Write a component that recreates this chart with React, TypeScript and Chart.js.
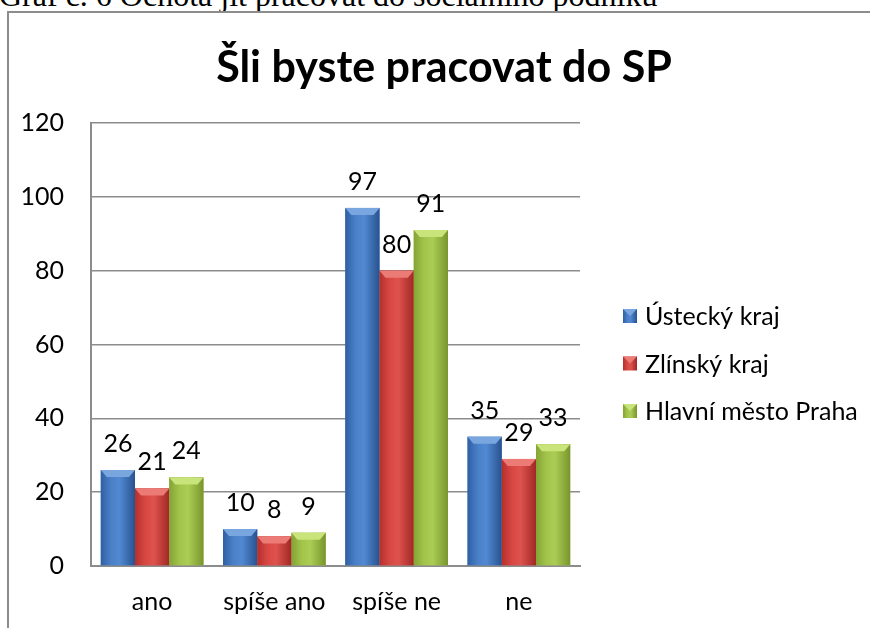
import React, { useEffect, useRef } from "react";
import { Chart, registerables } from "chart.js";

Chart.register(...registerables);

const captionText = "Graf č. 6 Ochota jít pracovat do sociálního podniku";
const chartTitle = "Šli byste pracovat do SP";
const categories = ["ano", "spíše ano", "spíše ne", "ne"];
const seriesNames = ["Ústecký kraj", "Zlínský kraj", "Hlavní město Praha"];
const usteckyValues = [26, 10, 97, 35];
const zlinskyValues = [21, 8, 80, 29];
const prahaValues = [24, 9, 91, 33];
const yMin = 0;
const yMax = 120;
const yStep = 20;

const FONT = "Lato, 'Open Sans', sans-serif";
const GRID = "#8c8c8c";
const FS = 25;

// [edgeLeft, mid, light, edgeRight, bevel]
const palettes = [
  ["#2f5fa3", "#4a80c8", "#5189d2", "#28528f", "#7aa6e0"],
  ["#b52f2c", "#d84843", "#de524d", "#a02825", "#ec7b76"],
  ["#84a334", "#a2c44b", "#abcd55", "#78952c", "#c8e47a"],
];

function makeGrad(ctx: CanvasRenderingContext2D, x0: number, x1: number, p: string[]) {
  const g = ctx.createLinearGradient(x0, 0, x1, 0);
  g.addColorStop(0, p[0]);
  g.addColorStop(0.3, p[1]);
  g.addColorStop(0.55, p[2]);
  g.addColorStop(1, p[3]);
  return g;
}

const barStylePlugin = {
  id: "barStyle",
  afterDatasetsDraw(chart: any) {
    const ctx: CanvasRenderingContext2D = chart.ctx;
    chart.data.datasets.forEach((ds: any, di: number) => {
      const meta = chart.getDatasetMeta(di);
      const p = palettes[di];
      meta.data.forEach((el: any, i: number) => {
        const x0 = el.x - el.width / 2;
        const x1 = el.x + el.width / 2;
        const top = el.y;
        const base = el.base;
        ctx.save();
        ctx.fillStyle = makeGrad(ctx, x0, x1, p);
        ctx.fillRect(x0, top, x1 - x0, base - top);
        const bh = Math.min(7, (base - top) / 2);
        ctx.beginPath();
        ctx.moveTo(x0, top);
        ctx.lineTo(x1, top);
        ctx.lineTo(x1 - 6, top + bh);
        ctx.lineTo(x0 + 6, top + bh);
        ctx.closePath();
        ctx.fillStyle = p[4];
        ctx.fill();
        ctx.fillStyle = "#000";
        ctx.font = `${FS}px ${FONT}`;
        ctx.textAlign = "center";
        ctx.textBaseline = "alphabetic";
        ctx.fillText(String(ds.data[i]), el.x, top - 18);
        ctx.restore();
      });
    });
  },
  afterDraw(chart: any) {
    const ctx: CanvasRenderingContext2D = chart.ctx;
    ctx.save();
    ctx.fillStyle = "#000";
    ctx.font = `bold 43px ${FONT}`;
    ctx.textAlign = "center";
    ctx.textBaseline = "alphabetic";
    ctx.fillText(chartTitle, 444, 82);
    ctx.font = `${FS}px ${FONT}`;
    ctx.textAlign = "left";
    ctx.textBaseline = "middle";
    chart.data.datasets.forEach((ds: any, di: number) => {
      const cy = 316 + di * 47.5;
      const sx = 623;
      const s = 14;
      ctx.fillStyle = makeGrad(ctx, sx, sx + s, palettes[di]);
      ctx.fillRect(sx, cy - s / 2, s, s);
      ctx.beginPath();
      ctx.moveTo(sx, cy - s / 2);
      ctx.lineTo(sx + s, cy - s / 2);
      ctx.lineTo(sx + s / 2, cy);
      ctx.closePath();
      ctx.fillStyle = palettes[di][4];
      ctx.fill();
      ctx.fillStyle = "#000";
      ctx.fillText(ds.label, 645, cy + 1);
    });
    ctx.restore();
  },
};

export default function App() {
  const ref = useRef<HTMLCanvasElement | null>(null);
  useEffect(() => {
    if (!ref.current) return;
    const seriesValues = [usteckyValues, zlinskyValues, prahaValues];
    const chart = new Chart(ref.current, {
      type: "bar",
      data: {
        labels: categories,
        datasets: seriesNames.map((name, i) => ({
          label: name,
          data: seriesValues[i],
          backgroundColor: palettes[i][1],
          borderWidth: 0,
          categoryPercentage: 0.84,
          barPercentage: 1.0,
        })),
      },
      options: {
        animation: false,
        responsive: false,
        devicePixelRatio: 1,
        layout: { padding: { top: 123, right: 290, bottom: 0, left: 0 } },
        plugins: {
          legend: { display: false },
          title: { display: false },
          tooltip: { enabled: false },
        },
        scales: {
          x: {
            grid: { display: false, drawTicks: false },
            border: { display: true, color: GRID, width: 2 },
            ticks: { color: "#000", font: { family: FONT, size: FS }, padding: 21 },
            afterFit: (s: any) => {
              s.height = 62;
            },
          },
          y: {
            min: yMin,
            max: yMax,
            grid: { color: GRID, lineWidth: 1.5, drawTicks: false },
            border: { display: true, color: GRID, width: 2 },
            ticks: {
              stepSize: yStep,
              color: "#000",
              font: { family: FONT, size: FS },
              padding: 27,
            },
            afterFit: (s: any) => {
              s.width = 91;
            },
          },
        },
      },
      plugins: [barStylePlugin],
    });
    return () => chart.destroy();
  }, []);

  return (
    <div style={{ position: "absolute", left: 0, top: 0, width: 870, height: 628, overflow: "hidden", background: "#fff" }}>
      <div
        style={{
          position: "absolute",
          left: -1,
          top: -23,
          fontFamily: "'Liberation Serif', 'Times New Roman', serif",
          fontSize: 32,
          whiteSpace: "nowrap",
          color: "#000",
        }}
      >
        {captionText}
      </div>
      <div
        style={{
          position: "absolute",
          left: 7,
          top: 11,
          width: 863,
          height: 617,
          borderLeft: "2px solid #8c8c8c",
          borderTop: "2px solid #8c8c8c",
          boxSizing: "border-box",
        }}
      />
      <canvas ref={ref} width={870} height={628} style={{ position: "absolute", left: 0, top: 0 }} />
    </div>
  );
}
